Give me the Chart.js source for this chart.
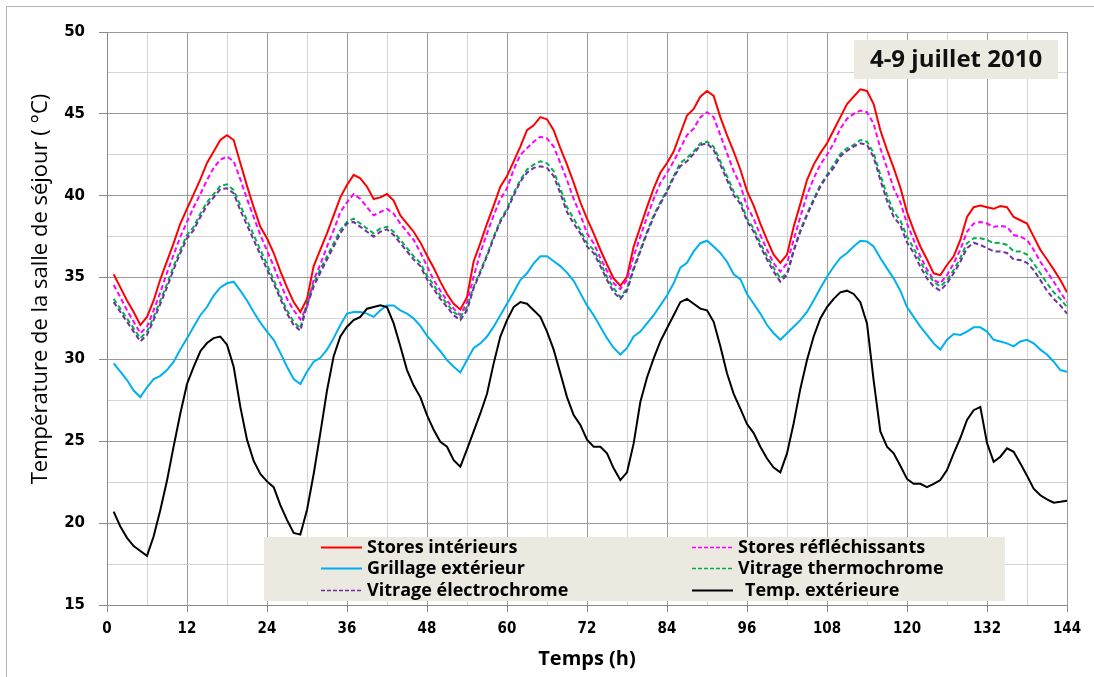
<!DOCTYPE html>
<html>
<head>
<meta charset="utf-8">
<script src="https://cdn.jsdelivr.net/npm/chart.js@4.4.1/dist/chart.umd.min.js"></script>
<style>
  html, body { margin: 0; padding: 0; background: #ffffff; }
  #wrap { width: 1094px; height: 677px; position: relative; }
</style>
</head>
<body>
<div id="wrap"><canvas id="c" width="1094" height="677"></canvas></div>
<script>
const HOURS = [1,2,3,4,5,6,7,8,9,10,11,12,13,14,15,16,17,18,19,20,21,22,23,24,
25,26,27,28,29,30,31,32,33,34,35,36,37,38,39,40,41,42,43,44,45,46,47,48,
49,50,51,52,53,54,55,56,57,58,59,60,61,62,63,64,65,66,67,68,69,70,71,72,
73,74,75,76,77,78,79,80,81,82,83,84,85,86,87,88,89,90,91,92,93,94,95,96,
97,98,99,100,101,102,103,104,105,106,107,108,109,110,111,112,113,114,115,116,117,118,119,120,
121,122,123,124,125,126,127,128,129,130,131,132,133,134,135,136,137,138,139,140,141,142,143,144];

const STORES_INTERIEURS = [35.2,34.4,33.6,32.9,32.1,32.6,33.6,34.9,36.0,37.1,38.3,39.2,40.1,41.0,42.0,42.7,43.4,43.7,43.4,42.0,40.6,39.3,38.1,37.4,
36.5,35.4,34.4,33.5,32.9,33.7,35.7,36.7,37.7,38.8,39.9,40.65,41.27,41.06,40.55,39.8,39.9,40.1,39.7,38.8,38.3,37.8,37.15,36.35,
35.6,34.75,34.0,33.4,33.05,33.8,36.0,37.1,38.3,39.4,40.55,41.2,42.1,43.0,44.0,44.3,44.8,44.67,44.0,42.9,41.9,40.8,39.6,38.6,
37.7,36.7,35.8,34.95,34.5,35.05,36.9,38.1,39.3,40.45,41.4,42.0,42.7,43.8,44.9,45.3,46.05,46.4,46.1,44.8,43.7,42.7,41.6,40.3,
39.4,38.3,37.3,36.4,35.9,36.4,38.1,39.5,40.96,41.9,42.6,43.2,44.0,44.8,45.6,46.05,46.5,46.4,45.6,44.0,42.8,41.7,40.5,39.0,
37.9,36.9,36.1,35.26,35.15,35.77,36.3,37.3,38.7,39.3,39.4,39.3,39.2,39.37,39.3,38.7,38.5,38.3,37.5,36.7,36.1,35.5,34.85,34.1];

const STORES_REFLECHISSANTS = [34.55,33.8,33.0,32.3,31.6,32.0,33.0,34.1,35.3,36.4,37.5,38.4,39.3,40.1,40.96,41.7,42.2,42.4,42.1,41.0,39.8,38.7,37.6,36.65,
35.7,34.65,33.7,33.0,32.45,33.2,34.85,35.8,36.9,37.9,39.0,39.6,40.1,39.8,39.3,38.8,39.0,39.2,38.9,38.3,37.8,37.3,36.55,35.7,
34.85,34.2,33.6,33.1,32.7,33.5,35.05,36.5,37.7,38.8,39.8,40.45,41.6,42.5,42.9,43.3,43.6,43.5,43.0,42.0,40.96,39.8,38.85,37.7,
37.1,36.2,35.4,34.65,34.3,34.85,36.3,37.5,38.7,39.8,40.76,41.4,42.1,42.9,43.7,44.1,44.8,45.1,44.8,43.7,42.6,41.5,40.65,39.35,
38.6,37.6,36.7,35.87,35.36,35.87,37.3,38.7,40.04,41.06,41.9,42.5,43.2,44.1,44.7,45.0,45.2,45.1,44.4,42.9,41.7,40.45,39.6,38.3,
37.3,36.3,35.5,34.85,34.65,35.15,35.87,36.7,37.8,38.3,38.4,38.3,38.1,38.15,38.1,37.6,37.5,37.3,36.7,35.97,35.36,34.75,34.1,33.5];

const GRILLAGE_EXTERIEUR = [29.76,29.25,28.74,28.1,27.7,28.3,28.8,29.0,29.35,29.86,30.6,31.3,32.0,32.7,33.2,33.9,34.4,34.65,34.75,34.2,33.6,32.9,32.25,31.7,
31.2,30.4,29.55,28.8,28.5,29.25,29.86,30.1,30.6,31.3,32.1,32.8,32.9,32.9,32.8,32.6,33.0,33.3,33.3,33.0,32.8,32.5,32.05,31.45,
30.98,30.5,29.96,29.55,29.2,29.96,30.7,30.98,31.4,32.0,32.7,33.4,34.1,34.85,35.26,35.87,36.3,36.3,36.0,35.7,35.3,34.8,34.05,33.3,
32.7,32.0,31.3,30.7,30.3,30.7,31.4,31.7,32.2,32.7,33.3,33.9,34.65,35.6,35.9,36.6,37.1,37.25,36.9,36.5,35.97,35.2,34.9,34.0,
33.4,32.8,32.1,31.6,31.2,31.6,32.0,32.4,32.9,33.6,34.35,35.05,35.66,36.2,36.5,36.9,37.25,37.2,36.9,36.2,35.56,34.95,34.2,33.2,
32.6,32.0,31.5,30.98,30.6,31.2,31.55,31.5,31.7,31.96,31.96,31.7,31.2,31.1,30.98,30.8,31.1,31.2,30.98,30.6,30.3,29.86,29.35,29.25];

const VITRAGE_THERMOCHROME = [33.7,33.1,32.5,31.9,31.3,31.7,32.6,33.6,34.6,35.7,36.7,37.6,38.1,38.9,39.6,40.1,40.6,40.7,40.35,39.4,38.5,37.6,36.7,35.8,
34.85,33.9,33.0,32.3,31.9,33.5,34.65,35.5,36.3,37.1,37.9,38.4,38.6,38.3,38.0,37.7,38.0,38.1,37.8,37.3,36.8,36.3,35.9,35.1,
34.55,33.9,33.4,32.9,32.6,33.2,34.45,35.4,36.4,37.5,38.5,39.2,40.15,40.96,41.6,41.9,42.1,41.98,41.5,40.45,39.3,38.6,37.9,37.1,
36.7,35.9,35.05,34.35,33.8,34.35,35.6,36.7,37.8,38.8,39.6,40.35,41.2,42.0,42.3,42.7,43.2,43.3,43.0,42.1,41.2,40.25,39.7,38.6,
38.0,37.1,36.3,35.6,34.95,35.26,36.7,37.9,38.9,39.8,40.65,41.27,41.9,42.55,42.9,43.1,43.4,43.3,42.6,41.27,40.04,39.0,38.5,37.5,
36.8,35.97,35.26,34.75,34.45,34.85,35.46,36.2,37.1,37.4,37.4,37.3,37.1,37.13,36.99,36.6,36.6,36.4,35.87,35.26,34.65,34.1,33.7,33.2];

const VITRAGE_ELECTROCHROME = [33.5,32.9,32.3,31.7,31.1,31.5,32.4,33.4,34.4,35.5,36.5,37.4,37.9,38.7,39.4,39.9,40.4,40.45,40.15,39.1,38.2,37.3,36.4,35.5,
34.65,33.7,32.8,32.1,31.75,33.3,34.45,35.3,36.1,36.9,37.7,38.3,38.4,38.1,37.8,37.5,37.8,37.95,37.6,37.1,36.6,36.1,35.7,34.9,
34.3,33.7,33.2,32.7,32.4,33.0,34.35,35.3,36.3,37.4,38.4,39.1,40.0,40.86,41.4,41.7,41.8,41.7,41.2,40.15,39.0,38.3,37.7,36.9,
36.5,35.7,34.85,34.1,33.7,34.2,35.5,36.6,37.7,38.7,39.5,40.25,41.1,41.8,42.1,42.55,43.1,43.2,42.8,41.9,40.96,40.04,39.5,38.45,
37.8,36.9,36.1,35.36,34.75,35.15,36.6,37.8,38.8,39.7,40.55,41.2,41.7,42.4,42.75,43.0,43.2,43.1,42.35,40.96,39.7,38.7,38.2,37.15,
36.5,35.66,34.95,34.45,34.2,34.65,35.26,35.97,36.8,37.13,36.99,36.8,36.6,36.6,36.5,36.1,36.07,35.9,35.46,34.85,34.2,33.7,33.3,32.8];

const TEMP_EXTERIEURE = [20.7,19.8,19.1,18.6,18.3,18.0,19.2,20.8,22.6,24.7,26.7,28.5,29.55,30.5,31.0,31.3,31.4,30.9,29.55,27.1,25.1,23.8,23.0,22.55,
22.2,21.1,20.2,19.4,19.3,20.8,23.0,25.5,28.1,30.2,31.4,32.0,32.4,32.6,33.1,33.2,33.3,33.2,32.2,30.8,29.35,28.4,27.7,26.6,
25.7,24.97,24.67,23.85,23.45,24.5,25.6,26.7,27.9,29.76,31.4,32.4,33.2,33.5,33.4,33.0,32.6,31.7,30.6,29.15,27.7,26.6,26.0,25.1,
24.67,24.67,24.26,23.35,22.63,23.1,24.87,27.4,28.9,30.06,31.1,31.9,32.7,33.5,33.7,33.4,33.1,33.0,32.3,30.8,29.15,27.9,27.0,26.05,
25.5,24.67,23.95,23.4,23.1,24.26,26.1,28.2,29.96,31.4,32.5,33.2,33.7,34.1,34.2,34.0,33.5,32.2,28.7,25.6,24.67,24.26,23.5,22.7,
22.4,22.4,22.2,22.4,22.63,23.24,24.26,25.2,26.3,26.9,27.1,24.9,23.75,24.06,24.57,24.36,23.65,22.9,22.1,21.7,21.45,21.25,21.3,21.37];

const SERIES_LABELS = ['Stores intérieurs','Stores réfléchissants','Grillage extérieur','Vitrage thermochrome','Vitrage électrochrome','Temp. extérieure'];
const SERIES_COLORS = ['#FF0000','#FF00FF','#00B0F0','#00B050','#7030A0','#000000'];
const SERIES_DASHED = [false,true,false,true,true,false];
const SERIES_VALUES = [STORES_INTERIEURS,STORES_REFLECHISSANTS,GRILLAGE_EXTERIEUR,VITRAGE_THERMOCHROME,VITRAGE_ELECTROCHROME,TEMP_EXTERIEURE];
const Y_TITLE = 'Température de la salle de séjour ( °C)';
const X_TITLE = 'Temps (h)';
const BOX_TITLE = '4-9 juillet 2010';

const datasets = SERIES_LABELS.map((lab, i) => ({
  label: lab,
  data: SERIES_VALUES[i],
  borderColor: SERIES_COLORS[i],
  backgroundColor: SERIES_COLORS[i],
  borderWidth: 2,
  borderDash: SERIES_DASHED[i] ? [5, 3] : [],
  pointRadius: 0,
  tension: 0,
  fill: false,
  order: [5,4,3,2,1,0][i]
}));

const decorPlugin = {
  id: 'decor',
  beforeDraw(chart) {
    const c = chart.ctx;
    c.save();
    c.fillStyle = '#ffffff';
    c.fillRect(0, 0, chart.width, chart.height);
    c.strokeStyle = '#b4b4b4';
    c.lineWidth = 1;
    c.beginPath();
    c.moveTo(6.5, chart.height);
    c.lineTo(6.5, 6.5);
    c.lineTo(chart.width, 6.5);
    c.stroke();
    c.restore();
  },
  afterDraw(chart) {
    const c = chart.ctx;
    c.save();
    // y axis title
    c.translate(41, 289);
    c.rotate(-Math.PI / 2);
    c.fillStyle = '#000';
    c.font = '22px "Open Sans", Lato, sans-serif';
    c.textAlign = 'center';
    c.textBaseline = 'middle';
    c.fillText(Y_TITLE, 0, 0);
    c.restore();

    // date box
    c.save();
    c.fillStyle = '#ECE9E0';
    c.fillRect(854, 40, 204, 39);
    c.fillStyle = '#111';
    c.font = 'bold 24px "Open Sans", Lato, sans-serif';
    c.textAlign = 'center';
    c.textBaseline = 'middle';
    c.fillText(BOX_TITLE, 956, 60);
    c.restore();

    // legend box
    c.save();
    c.fillStyle = '#ECE9E0';
    c.fillRect(264, 537, 741, 64);
    const items = chart.data.datasets;
    const pos = [
      [321, 547], [692, 547],
      [321, 568], [692, 568],
      [321, 590], [692, 590]
    ];
    items.forEach((ds, i) => {
      const [x, y] = pos[i];
      c.strokeStyle = ds.borderColor;
      c.lineWidth = ds.borderDash.length ? 1.5 : 2;
      c.setLineDash(ds.borderDash.length ? [4, 2] : []);
      c.beginPath();
      c.moveTo(x, y + 0.5);
      c.lineTo(x + 41, y + 0.5);
      c.stroke();
      c.setLineDash([]);
      c.fillStyle = '#000';
      c.font = 'bold 18px "Open Sans", Lato, sans-serif';
      c.textAlign = 'left';
      c.textBaseline = 'middle';
      const tx = (i === 5) ? x + 53 : x + 46;
      c.fillText(ds.label, tx, y + 1);
    });
    c.restore();
  }
};

new Chart(document.getElementById('c'), {
  type: 'line',
  data: { labels: HOURS, datasets },
  options: {
    responsive: false,
    animation: false,
    devicePixelRatio: 1,
    layout: { padding: { left: 0, top: 32, right: 27, bottom: 0 } },
    plugins: { legend: { display: false }, tooltip: { enabled: false } },
    scales: {
      x: {
        type: 'linear',
        min: 0, max: 144,
        afterFit(s) { s.height = 72; },
        ticks: {
          stepSize: 6,
          autoSkip: false,
          maxRotation: 0,
          padding: 8,
          color: '#000',
          font: { family: '"DejaVu Sans Condensed", "Liberation Sans Narrow", "DejaVu Sans", sans-serif', size: 15, weight: 'bold' },
          callback: v => (v % 12 === 0 ? String(v) : '')
        },
        grid: {
          color: ctx => (ctx.tick && ctx.tick.value % 12 === 0 ? '#9a9a9a' : '#d4d4d4'),
          tickColor: ctx => (ctx.tick && ctx.tick.value % 12 === 0 ? '#8a8a8a' : 'rgba(0,0,0,0)'),
          tickLength: 7,
          lineWidth: 1
        },
        border: { display: true, color: '#8a8a8a', width: 1 },
        title: {
          display: true,
          text: X_TITLE,
          color: '#000',
          font: { family: '"Open Sans", Lato, sans-serif', size: 20, weight: 'bold' },
          padding: { top: 0, bottom: 6 }
        }
      },
      y: {
        min: 15, max: 50,
        afterFit(s) { s.width = 107; },
        ticks: {
          stepSize: 2.5,
          autoSkip: false,
          padding: 14,
          color: '#000',
          font: { family: '"DejaVu Sans", Verdana, sans-serif', size: 15, weight: 'bold' },
          callback: v => (v % 5 === 0 ? String(v) : '')
        },
        grid: {
          color: ctx => (ctx.tick && ctx.tick.value % 5 === 0 ? '#9a9a9a' : '#d4d4d4'),
          tickColor: ctx => (ctx.tick && ctx.tick.value % 5 === 0 ? '#8a8a8a' : 'rgba(0,0,0,0)'),
          tickLength: 8,
          lineWidth: 1
        },
        border: { display: true, color: '#8a8a8a', width: 1 }
      }
    }
  },
  plugins: [decorPlugin]
});
</script>
</body>
</html>
